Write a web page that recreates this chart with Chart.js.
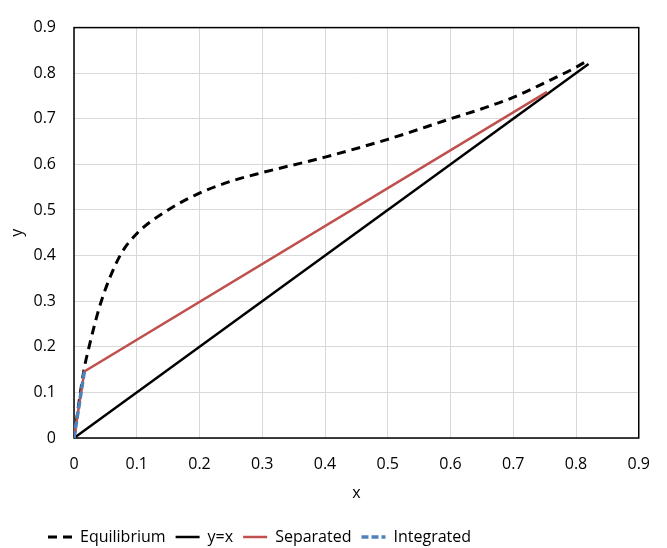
<!DOCTYPE html>
<html>
<head>
<meta charset="utf-8">
<script src="https://cdn.jsdelivr.net/npm/chart.js@4"></script>
<style>
  html, body { margin: 0; padding: 0; background: #fff; overflow: hidden; }
  #wrap { width: 667px; height: 548px; overflow: hidden; }
  #box { width: 667px; height: 555px; }
</style>
</head>
<body>
<div id="wrap"><div id="box"><canvas id="chart"></canvas></div></div>
<script>
// values
var eqX = [0, 0.016, 0.024, 0.0435, 0.0734, 0.1, 0.15, 0.2, 0.25, 0.3, 0.4, 0.5, 0.6, 0.65, 0.7, 0.75, 0.8, 0.82]
var eqY = [0, 0.15, 0.2, 0.3, 0.4, 0.448, 0.5, 0.537, 0.563, 0.582, 0.616, 0.655, 0.7, 0.722, 0.747, 0.779, 0.813, 0.829]
var diagX = [0, 0.82]
var diagY = [0, 0.82]
var sepX = [0, 0.0165, 0.754]
var sepY = [0, 0.146, 0.759]
var intX = [0, 0.0165]
var intY = [0, 0.146]
var tickVals = [0, 0.1, 0.2, 0.3, 0.4, 0.5, 0.6, 0.7, 0.8, 0.9]

const pts = (xs, ys) => xs.map((x, i) => ({x: x, y: ys[i]}))

const font = "'Open Sans', 'Noto Sans', sans-serif"

// black box round the plot area, and legend nudged to the left like the original
const frame = {
    id: 'frame',
    afterLayout(chart) {
        chart.legend.left += 38
        chart.legend.right += 38
    },
    beforeDatasetsDraw(chart) {
        const a = chart.chartArea
        const ctx = chart.ctx
        ctx.save()
        ctx.strokeStyle = '#000'
        ctx.lineWidth = 1.5
        ctx.strokeRect(a.left, a.top, a.right - a.left, a.bottom - a.top)
        ctx.restore()
    }
}

const tickCb = v => {
    const t = tickVals.find(k => Math.abs(k - v) < 1e-9)
    return t === undefined ? '' : String(t)
}

new Chart(document.getElementById('chart'), {
    type: 'scatter',
    data: {
        datasets: [
            {label: 'Equilibrium', data: pts(eqX, eqY), showLine: true, borderColor: '#000', borderWidth: 3,
             borderDash: [9, 6], pointRadius: 0, cubicInterpolationMode: 'monotone', order: 3},
            {label: 'y=x', data: pts(diagX, diagY), showLine: true, borderColor: '#000', borderWidth: 2.5,
             pointRadius: 0, order: 2},
            {label: 'Separated', data: pts(sepX, sepY), showLine: true, borderColor: '#c0504d', borderWidth: 2.5,
             pointRadius: 0, order: 1},
            {label: 'Integrated', data: pts(intX, intY), showLine: true, borderColor: '#4f81bd', borderWidth: 3.5,
             borderDash: [7, 3], pointRadius: 0, order: 0}
        ]
    },
    options: {
        responsive: true,
        maintainAspectRatio: false,
        animation: false,
        layout: {padding: {top: 19.5, right: 20.5, left: 0, bottom: 0}},
        scales: {
            x: {
                type: 'linear', min: 0, max: 0.9,
                afterBuildTicks: s => { s.ticks = tickVals.map(v => ({value: v})) },
                afterFit: s => { s.height = 81 },
                grid: {color: '#d9d9d9', lineWidth: 1, drawTicks: false},
                border: {display: false},
                ticks: {padding: 17, color: '#000', font: {family: font, size: 16}, callback: tickCb},
                title: {display: true, text: 'x', color: '#000', font: {family: font, size: 16}, padding: {top: 0, bottom: 16}}
            },
            y: {
                type: 'linear', min: 0, max: 0.9,
                afterBuildTicks: s => { s.ticks = tickVals.map(v => ({value: v})) },
                afterFit: s => { s.width = 74 },
                grid: {color: '#d9d9d9', lineWidth: 1, drawTicks: false},
                border: {display: false},
                ticks: {padding: 18, color: '#000', font: {family: font, size: 16}, callback: tickCb},
                title: {display: true, text: 'y', color: '#000', font: {family: font, size: 16}, padding: {top: 8, bottom: 0}}
            }
        },
        plugins: {
            legend: {
                position: 'bottom',
                align: 'start',
                labels: {
                    usePointStyle: true,
                    pointStyle: 'line',
                    pointStyleWidth: 24,
                    boxWidth: 24,
                    padding: 10,
                    color: '#000',
                    font: {family: font, size: 16},
                    sort: (a, b) => a.datasetIndex - b.datasetIndex,
                    generateLabels: chart => Chart.defaults.plugins.legend.labels.generateLabels(chart).map(l => {
                        const ds = chart.data.datasets[l.datasetIndex]
                        l.lineDash = ds.borderDash || []
                        l.lineWidth = ds.borderWidth
                        l.strokeStyle = ds.borderColor
                        return l
                    })
                }
            },
            tooltip: {enabled: false}
        }
    },
    plugins: [frame]
})
</script>
</body>
</html>
